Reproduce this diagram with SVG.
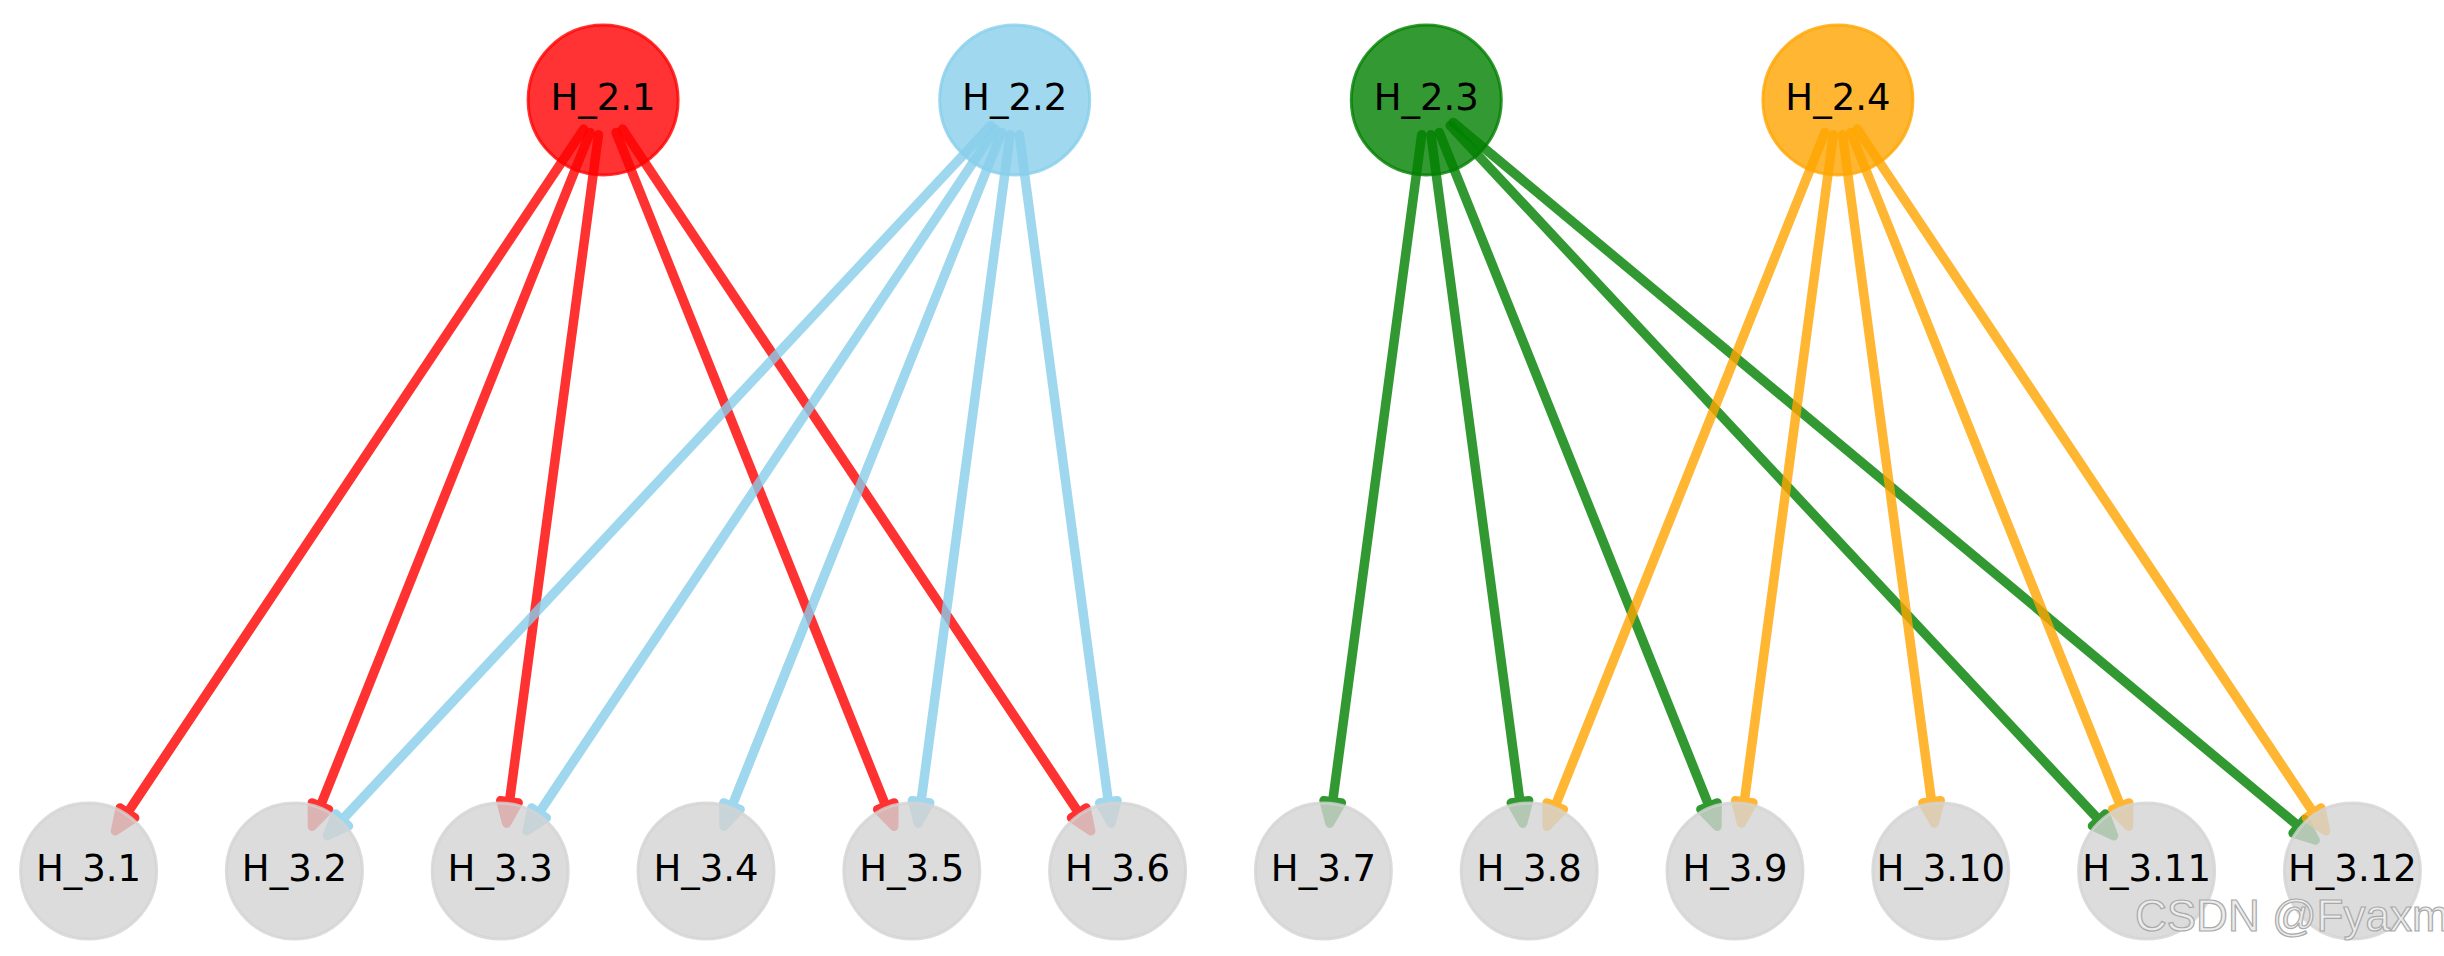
<svg xmlns="http://www.w3.org/2000/svg" width="2444" height="956" viewBox="0 0 2444 956">
<style>
.e{opacity:0.8}
.e path{fill:none;stroke-width:9.5;stroke-linecap:round}
.r path{stroke:#ff0000}
.b path{stroke:#87ceeb}
.g path{stroke:#008000}
.o path{stroke:#ffa500}
.n{fill-opacity:0.8;stroke-opacity:0.8;stroke-width:3}
.lbl{font-family:"DejaVu Sans",sans-serif;font-size:37px;fill:#000;text-anchor:middle}
.wm{font-family:"Liberation Sans",Arial,sans-serif;font-size:44px;fill:#ececec;stroke:#a9a9a9;stroke-width:1.2}
</style>
<defs>
<marker id="ar-r" markerUnits="userSpaceOnUse" orient="auto" refX="0" refY="0" markerWidth="60" markerHeight="60" viewBox="-20 -30 60 60" overflow="visible"><path d="M0,-9 L22,0 L0,9 Z" fill="#ff0000" stroke="#ff0000" stroke-width="9" stroke-linejoin="round"/></marker>
<marker id="ar-b" markerUnits="userSpaceOnUse" orient="auto" refX="0" refY="0" markerWidth="60" markerHeight="60" viewBox="-20 -30 60 60" overflow="visible"><path d="M0,-9 L22,0 L0,9 Z" fill="#87ceeb" stroke="#87ceeb" stroke-width="9" stroke-linejoin="round"/></marker>
<marker id="ar-g" markerUnits="userSpaceOnUse" orient="auto" refX="0" refY="0" markerWidth="60" markerHeight="60" viewBox="-20 -30 60 60" overflow="visible"><path d="M0,-9 L22,0 L0,9 Z" fill="#008000" stroke="#008000" stroke-width="9" stroke-linejoin="round"/></marker>
<marker id="ar-o" markerUnits="userSpaceOnUse" orient="auto" refX="0" refY="0" markerWidth="60" markerHeight="60" viewBox="-20 -30 60 60" overflow="visible"><path d="M0,-9 L22,0 L0,9 Z" fill="#ffa500" stroke="#ffa500" stroke-width="9" stroke-linejoin="round"/></marker>
</defs>
<rect width="2444" height="956" fill="#ffffff"/>
<g id="edges">
<g class="e r"><path d="M583.67,129.11 L127.46,812.77" marker-end="url(#ar-r)"/></g>
<g class="e r"><path d="M590.09,132.49 L320.42,806.01" marker-end="url(#ar-r)"/></g>
<g class="e r"><path d="M598.47,134.69 L509.46,801.62" marker-end="url(#ar-r)"/></g>
<g class="e r"><path d="M616.11,132.49 L885.78,806.01" marker-end="url(#ar-r)"/></g>
<g class="e r"><path d="M622.53,129.11 L1078.74,812.77" marker-end="url(#ar-r)"/></g>
<g class="e b"><path d="M990.81,125.57 L342.19,819.85" marker-end="url(#ar-b)"/></g>
<g class="e b"><path d="M995.27,129.11 L539.06,812.77" marker-end="url(#ar-b)"/></g>
<g class="e b"><path d="M1001.69,132.49 L732.02,806.01" marker-end="url(#ar-b)"/></g>
<g class="e b"><path d="M1010.07,134.69 L921.06,801.62" marker-end="url(#ar-b)"/></g>
<g class="e b"><path d="M1019.33,134.69 L1108.34,801.62" marker-end="url(#ar-b)"/></g>
<g class="e g"><path d="M1421.67,134.69 L1332.66,801.62" marker-end="url(#ar-g)"/></g>
<g class="e g"><path d="M1430.93,134.69 L1519.94,801.62" marker-end="url(#ar-g)"/></g>
<g class="e g"><path d="M1439.31,132.49 L1708.98,806.01" marker-end="url(#ar-g)"/></g>
<g class="e g"><path d="M1450.19,125.57 L2098.81,819.85" marker-end="url(#ar-g)"/></g>
<g class="e g"><path d="M1453.2,122.39 L2298.6,826.21" marker-end="url(#ar-g)"/></g>
<g class="e o"><path d="M1824.89,132.49 L1555.22,806.01" marker-end="url(#ar-o)"/></g>
<g class="e o"><path d="M1833.27,134.69 L1744.26,801.62" marker-end="url(#ar-o)"/></g>
<g class="e o"><path d="M1842.53,134.69 L1931.54,801.62" marker-end="url(#ar-o)"/></g>
<g class="e o"><path d="M1850.91,132.49 L2120.58,806.01" marker-end="url(#ar-o)"/></g>
<g class="e o"><path d="M1857.33,129.11 L2313.54,812.77" marker-end="url(#ar-o)"/></g>
</g>
<g id="H_2.1"><circle class="n" cx="603.1" cy="100" r="75" fill="#ff0000" stroke="#ff0000"/><text class="lbl" x="603.1" y="110">H_2.1</text></g>
<g id="H_2.2"><circle class="n" cx="1014.7" cy="100" r="75" fill="#87ceeb" stroke="#87ceeb"/><text class="lbl" x="1014.7" y="110">H_2.2</text></g>
<g id="H_2.3"><circle class="n" cx="1426.3" cy="100" r="75" fill="#008000" stroke="#008000"/><text class="lbl" x="1426.3" y="110">H_2.3</text></g>
<g id="H_2.4"><circle class="n" cx="1837.9" cy="100" r="75" fill="#ffa500" stroke="#ffa500"/><text class="lbl" x="1837.9" y="110">H_2.4</text></g>
<g id="H_3.1"><circle class="n" cx="88.6" cy="871" r="68" fill="#d3d3d3" stroke="#d3d3d3"/><text class="lbl" x="88.6" y="881">H_3.1</text></g>
<g id="H_3.2"><circle class="n" cx="294.4" cy="871" r="68" fill="#d3d3d3" stroke="#d3d3d3"/><text class="lbl" x="294.4" y="881">H_3.2</text></g>
<g id="H_3.3"><circle class="n" cx="500.2" cy="871" r="68" fill="#d3d3d3" stroke="#d3d3d3"/><text class="lbl" x="500.2" y="881">H_3.3</text></g>
<g id="H_3.4"><circle class="n" cx="706" cy="871" r="68" fill="#d3d3d3" stroke="#d3d3d3"/><text class="lbl" x="706" y="881">H_3.4</text></g>
<g id="H_3.5"><circle class="n" cx="911.8" cy="871" r="68" fill="#d3d3d3" stroke="#d3d3d3"/><text class="lbl" x="911.8" y="881">H_3.5</text></g>
<g id="H_3.6"><circle class="n" cx="1117.6" cy="871" r="68" fill="#d3d3d3" stroke="#d3d3d3"/><text class="lbl" x="1117.6" y="881">H_3.6</text></g>
<g id="H_3.7"><circle class="n" cx="1323.4" cy="871" r="68" fill="#d3d3d3" stroke="#d3d3d3"/><text class="lbl" x="1323.4" y="881">H_3.7</text></g>
<g id="H_3.8"><circle class="n" cx="1529.2" cy="871" r="68" fill="#d3d3d3" stroke="#d3d3d3"/><text class="lbl" x="1529.2" y="881">H_3.8</text></g>
<g id="H_3.9"><circle class="n" cx="1735" cy="871" r="68" fill="#d3d3d3" stroke="#d3d3d3"/><text class="lbl" x="1735" y="881">H_3.9</text></g>
<g id="H_3.10"><circle class="n" cx="1940.8" cy="871" r="68" fill="#d3d3d3" stroke="#d3d3d3"/><text class="lbl" x="1940.8" y="881">H_3.10</text></g>
<g id="H_3.11"><circle class="n" cx="2146.6" cy="871" r="68" fill="#d3d3d3" stroke="#d3d3d3"/><text class="lbl" x="2146.6" y="881">H_3.11</text></g>
<g id="H_3.12"><circle class="n" cx="2352.4" cy="871" r="68" fill="#d3d3d3" stroke="#d3d3d3"/><text class="lbl" x="2352.4" y="881">H_3.12</text></g>
<text class="wm" x="2135" y="931">CSDN @Fyaxm</text>
</svg>
